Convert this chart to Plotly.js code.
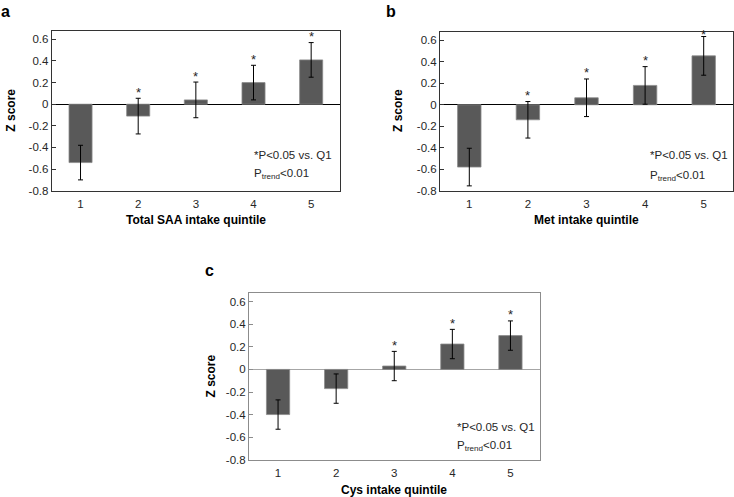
<!DOCTYPE html>
<html>
<head>
<meta charset="utf-8">
<script src="https://cdn.plot.ly/plotly-3.0.1.min.js"></script>
<style>html,body{margin:0;padding:0;background:#fff;}#chart{width:734px;height:497px;}</style>
</head>
<body>
<div id="chart"></div>
<script>
// ---- data ----
var quintiles = [1, 2, 3, 4, 5];
var quintileLabels = ['1', '2', '3', '4', '5'];
var saaZ = [-0.54, -0.11, 0.04, 0.20, 0.41];
var saaErr = [0.16, 0.165, 0.165, 0.16, 0.16];
var saaSig = [false, true, true, true, true];
var metZ = [-0.58, -0.14, 0.065, 0.18, 0.455];
var metErr = [0.175, 0.17, 0.175, 0.175, 0.18];
var metSig = [false, true, true, true, true];
var cysZ = [-0.40, -0.17, 0.03, 0.225, 0.30];
var cysErr = [0.13, 0.13, 0.13, 0.13, 0.13];
var cysSig = [false, false, true, true, true];
var yTickVals = [-0.8, -0.6, -0.4, -0.2, 0, 0.2, 0.4, 0.6];
var yTickText = ['-0.8', '-0.6', '-0.4', '-0.2', '0', '0.2', '0.4', '0.6'];
var panelLetters = ['a', 'b', 'c'];
var xTitles = ['Total SAA intake quintile', 'Met intake quintile', 'Cys intake quintile'];
var yTitle = 'Z score';
var noteSig = '*P&lt;0.05 vs. Q1';
var noteTrend = 'P<sub>trend</sub>&lt;0.01';

// ---- layout helpers ----
var W = 734, H = 497;
function px(x) { return x / W; }
function py(y) { return 1 - y / H; }
var FONT = 'Arial, "Liberation Sans", sans-serif';
var Y_MAX = 0.68;

var panels = [
  {z: saaZ, e: saaErr, s: saaSig, x0: 51.7, x1: 340, y0: 30.7, y1: 190.7, line: '#333333', zero: '#000000',
   letter: [6, 11], ytitle: [11, 110.7], xtitle: [196, 220], notes: [252, 155, 174]},
  {z: metZ, e: metErr, s: metSig, x0: 440, x1: 733, y0: 31.7, y1: 190.7, line: '#333333', zero: '#000000',
   letter: [391, 11], ytitle: [398, 111], xtitle: [586, 220], notes: [648, 155, 176]},
  {z: cysZ, e: cysErr, s: cysSig, x0: 249, x1: 539.5, y0: 292.7, y1: 459.7, line: '#8c8c8c', zero: '#a6a6a6',
   letter: [209, 270], ytitle: [210, 376.5], xtitle: [394, 490], notes: [455, 426.5, 446]}
];

var data = [];
var layout = {
  width: W, height: H,
  margin: {l: 0, r: 0, t: 0, b: 0},
  paper_bgcolor: '#ffffff', plot_bgcolor: '#ffffff',
  showlegend: false,
  bargap: 0.6,
  font: {family: FONT, size: 11.5, color: '#262626'},
  annotations: []
};

panels.forEach(function (p, i) {
  var n = i === 0 ? '' : String(i + 1);
  data.push({
    type: 'bar',
    x: quintiles, y: p.z,
    xaxis: 'x' + n, yaxis: 'y' + n,
    marker: {color: '#595959', line: {color: '#8a8a8a', width: 0.8}},
    error_y: {type: 'data', array: p.e, visible: true, color: '#000000', thickness: 1, width: 2.5},
    hoverinfo: 'x+y'
  });
  layout['xaxis' + n] = {
    domain: [px(p.x0), px(p.x1)],
    anchor: 'y' + n,
    type: 'linear',
    range: [0.5, 5.5],
    tickvals: quintiles, ticktext: quintileLabels,
    showline: true, mirror: true, linecolor: p.line, linewidth: 1,
    ticks: '', showgrid: false, zeroline: false,
    tickfont: {family: FONT, size: 11.5, color: '#262626'},
    ticklabelstandoff: 2,
    fixedrange: true
  };
  layout['yaxis' + n] = {
    domain: [py(p.y1), py(p.y0)],
    anchor: 'x' + n,
    range: [-0.8, Y_MAX],
    tickvals: yTickVals, ticktext: yTickText,
    ticks: 'inside', ticklen: 4, tickcolor: p.line, tickwidth: 1,
    showline: true, mirror: true, linecolor: p.line, linewidth: 1,
    showgrid: false,
    zeroline: true, zerolinecolor: p.zero, zerolinewidth: 1.2,
    tickfont: {family: FONT, size: 11.5, color: '#262626'},
    fixedrange: true
  };
  // panel letter
  layout.annotations.push({xref: 'paper', yref: 'paper', x: px(p.letter[0]), y: py(p.letter[1]),
    xanchor: 'center', yanchor: 'middle', showarrow: false,
    text: '<b>' + panelLetters[i] + '</b>', font: {family: FONT, size: 16, color: '#000'}});
  // y title
  layout.annotations.push({xref: 'paper', yref: 'paper', x: px(p.ytitle[0]), y: py(p.ytitle[1]),
    xanchor: 'center', yanchor: 'middle', showarrow: false, textangle: -90,
    text: '<b>' + yTitle + '</b>', font: {family: FONT, size: 12, color: '#000'}});
  // x title
  layout.annotations.push({xref: 'paper', yref: 'paper', x: px(p.xtitle[0]), y: py(p.xtitle[1]),
    xanchor: 'center', yanchor: 'middle', showarrow: false,
    text: '<b>' + xTitles[i] + '</b>', font: {family: FONT, size: 12, color: '#000'}});
  // notes
  layout.annotations.push({xref: 'paper', yref: 'paper', x: px(p.notes[0]), y: py(p.notes[1]),
    xanchor: 'left', yanchor: 'middle', showarrow: false,
    text: noteSig, font: {family: FONT, size: 11.5, color: '#262626'}});
  layout.annotations.push({xref: 'paper', yref: 'paper', x: px(p.notes[0]), y: py(p.notes[2]),
    xanchor: 'left', yanchor: 'middle', showarrow: false,
    text: noteTrend, font: {family: FONT, size: 11.5, color: '#262626'}});
  // significance stars, placed just above each error bar (kept inside the frame)
  quintiles.forEach(function (q, k) {
    if (!p.s[k]) return;
    var top = Math.min(p.z[k] + p.e[k], Y_MAX - 0.08);
    layout.annotations.push({xref: 'x' + n, yref: 'y' + n, x: q, y: top,
      xanchor: 'center', yanchor: 'middle', yshift: 6, showarrow: false,
      text: '*', font: {family: FONT, size: 13, color: '#262626'}});
  });
});

Plotly.newPlot('chart', data, layout, {displayModeBar: false, staticPlot: true});
</script>
</body>
</html>
